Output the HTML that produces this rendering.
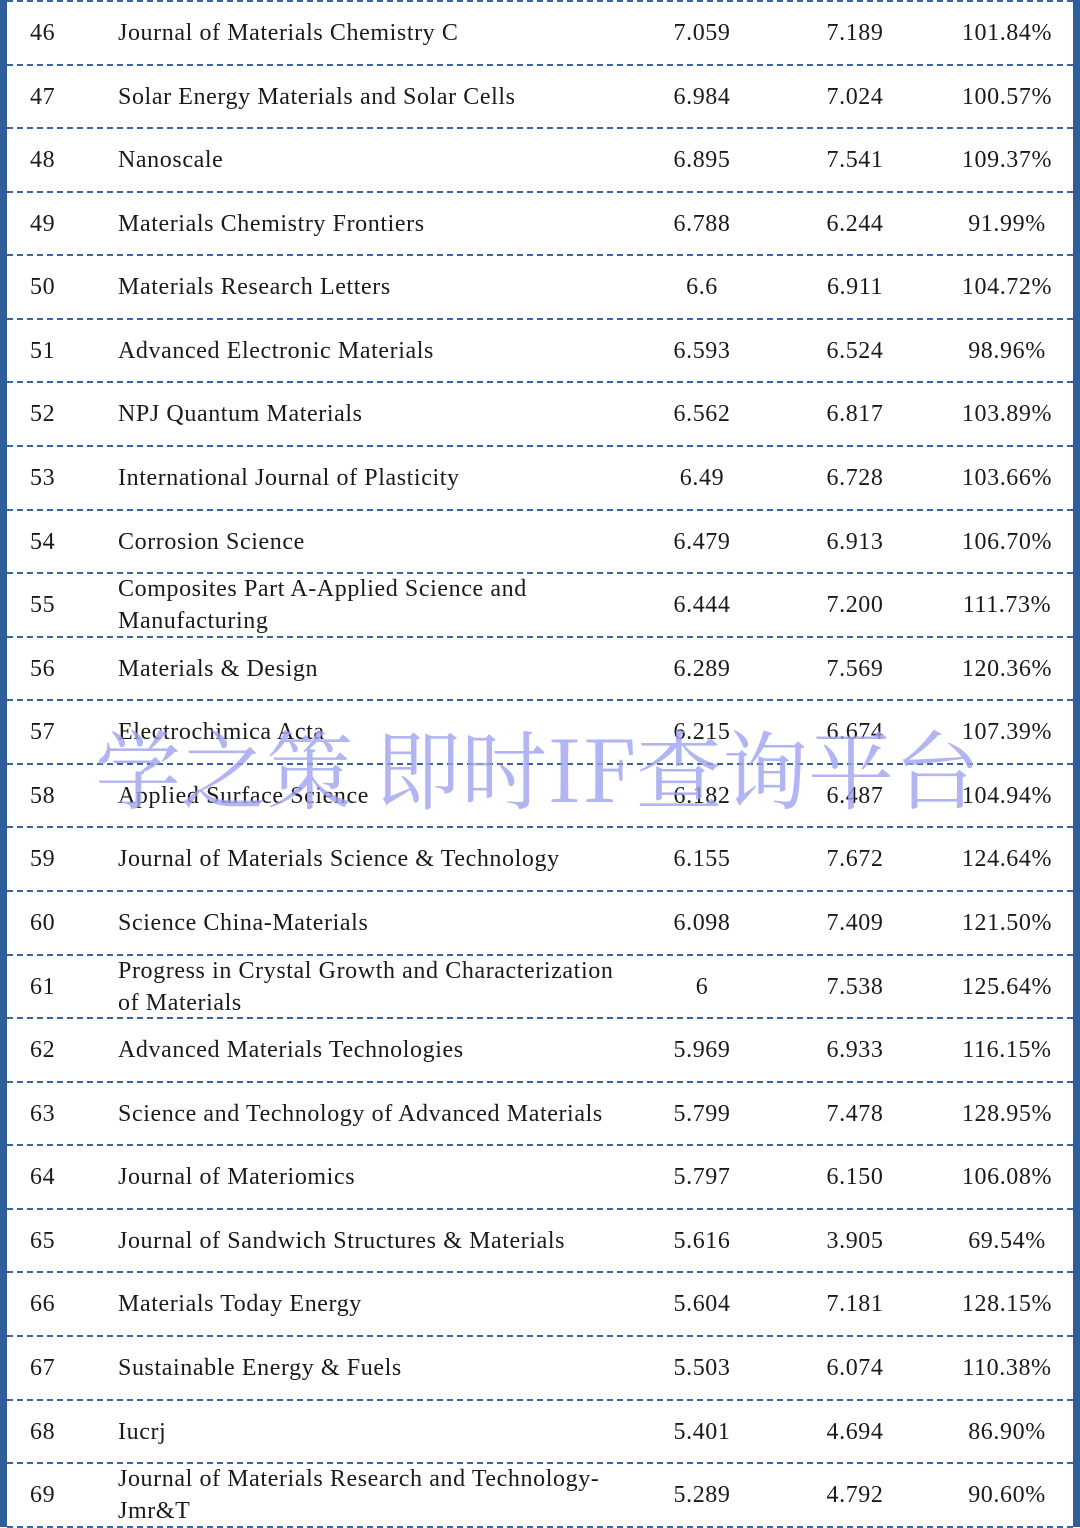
<!DOCTYPE html>
<html><head><meta charset="utf-8"><style>
body{margin:0;width:1080px;height:1527px;background:#fff;position:relative;overflow:hidden;font-family:"Liberation Serif","Noto Serif CJK SC",serif;color:#1a1a1a}
.bl{position:absolute;left:0;top:0;width:7px;height:1527px;background:#2f5e98}
.br{position:absolute;left:1073px;top:0;width:7px;height:1527px;background:#2f5e98}
.sep{position:absolute;left:7px;width:1066px;height:0;border-top:2px dashed #3a64a0}
.c{position:absolute;font-size:24px;letter-spacing:0.6px;line-height:32px;white-space:nowrap}
.ctr{transform:translateX(-50%)}
svg{position:absolute;left:0;top:0}
</style></head><body>
<div class="bl"></div>
<div class="br"></div>
<div id="tbl"></div>
<svg width="1080" height="1527"><text x="95" y="802" font-size="86" textLength="885" lengthAdjust="spacingAndGlyphs" fill="#9ea3ee" fill-opacity="0.8" font-family="Noto Serif CJK SC, serif">学之策 即时IF查询平台</text></svg>
<script>
const ranks=[46,47,48,49,50,51,52,53,54,55,56,57,58,59,60,61,62,63,64,65,66,67,68,69];
const names=["Journal of Materials Chemistry C","Solar Energy Materials and Solar Cells","Nanoscale","Materials Chemistry Frontiers","Materials Research Letters","Advanced Electronic Materials","NPJ Quantum Materials","International Journal of Plasticity","Corrosion Science","Composites Part A-Applied Science and|Manufacturing","Materials & Design","Electrochimica Acta","Applied Surface Science","Journal of Materials Science & Technology","Science China-Materials","Progress in Crystal Growth and Characterization|of Materials","Advanced Materials Technologies","Science and Technology of Advanced Materials","Journal of Materiomics","Journal of Sandwich Structures & Materials","Materials Today Energy","Sustainable Energy & Fuels","Iucrj","Journal of Materials Research and Technology-|Jmr&T"];
const if1=["7.059","6.984","6.895","6.788","6.6","6.593","6.562","6.49","6.479","6.444","6.289","6.215","6.182","6.155","6.098","6","5.969","5.799","5.797","5.616","5.604","5.503","5.401","5.289"];
const if2=["7.189","7.024","7.541","6.244","6.911","6.524","6.817","6.728","6.913","7.200","7.569","6.674","6.487","7.672","7.409","7.538","6.933","7.478","6.150","3.905","7.181","6.074","4.694","4.792"];
const pct=["101.84%","100.57%","109.37%","91.99%","104.72%","98.96%","103.89%","103.66%","106.70%","111.73%","120.36%","107.39%","104.94%","124.64%","121.50%","125.64%","116.15%","128.95%","106.08%","69.54%","128.15%","110.38%","86.90%","90.60%"];
const tbl=document.getElementById('tbl');
const pitch=63.57;
function cell(txt,x,y,center){const d=document.createElement('div');d.className='c'+(center?' ctr':'');d.style.left=x+'px';d.style.top=y+'px';d.innerHTML=txt;tbl.appendChild(d);return d;}
for(let i=0;i<=ranks.length;i++){
  const s=document.createElement('div');s.className='sep';s.style.top=(0+pitch*i)+'px';
  
  
  tbl.appendChild(s);
}
ranks.forEach((r,i)=>{
  const cy=33+pitch*i;const y=cy-16;
  let e=cell(r,30,y,false);
  
  
  const parts=names[i].split('|');
  if(parts.length>1){e=cell(parts[0].replace(/&/g,'&amp;')+'<br>'+parts[1].replace(/&/g,'&amp;'),118,cy-32,false);e.style.lineHeight='32px';}
  else e=cell(parts[0].replace(/&/g,'&amp;'),118,y,false);
  
  
  e=cell(if1[i],702,y,true);
  
  
  e=cell(if2[i],855,y,true);
  
  
  e=cell(pct[i],1007,y,true);
  
  
});
</script>
</body></html>
